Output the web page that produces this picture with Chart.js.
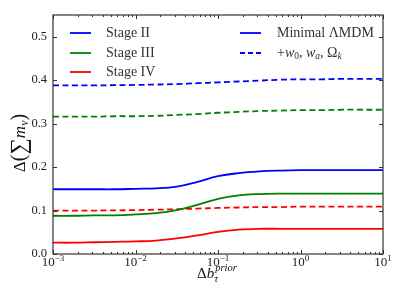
<!DOCTYPE html>
<html>
<head>
<meta charset="utf-8">
<script src="https://cdn.jsdelivr.net/npm/chart.js@4.4.1/dist/chart.umd.min.js"></script>
<style>
  html, body { margin: 0; padding: 0; background: #fff; }
  #wrap { width: 407px; height: 305px; position: relative; }
</style>
</head>
<body>
<div id="wrap"><canvas id="grafico"></canvas></div>
<script>
// valores (4 puntos por decada)
const bPrior = [0.001, 0.00178, 0.00316, 0.00562, 0.01, 0.0178, 0.0316, 0.0562, 0.1, 0.178, 0.316, 0.562, 1, 1.78, 3.16, 5.62, 10];

const stage2Min = [0.149, 0.149, 0.149, 0.149, 0.150, 0.151, 0.155, 0.166, 0.179, 0.186, 0.190, 0.192, 0.193, 0.193, 0.193, 0.193, 0.193];
const stage3Min = [0.088, 0.088, 0.089, 0.089, 0.091, 0.094, 0.101, 0.113, 0.127, 0.135, 0.138, 0.139, 0.139, 0.139, 0.139, 0.139, 0.139];
const stage4Min = [0.026, 0.026, 0.027, 0.028, 0.029, 0.031, 0.036, 0.043, 0.051, 0.056, 0.058, 0.058, 0.058, 0.058, 0.058, 0.058, 0.058];

const stage2Ext = [0.388, 0.388, 0.388, 0.3885, 0.389, 0.390, 0.391, 0.393, 0.395, 0.397, 0.399, 0.401, 0.402, 0.402, 0.403, 0.403, 0.403];
const stage3Ext = [0.316, 0.316, 0.316, 0.317, 0.317, 0.318, 0.320, 0.322, 0.325, 0.327, 0.329, 0.330, 0.331, 0.331, 0.332, 0.332, 0.332];
const stage4Ext = [0.100, 0.100, 0.100, 0.1005, 0.101, 0.102, 0.103, 0.1045, 0.106, 0.107, 0.108, 0.108, 0.109, 0.109, 0.109, 0.109, 0.109];

const xTickVals = [0.001, 0.01, 0.1, 1, 10];
const xTickExp = ['\u22123', '\u22122', '\u22121', '0', '1'];
const yTickVals = [0, 0.1, 0.2, 0.3, 0.4, 0.5];

const stageNames = ['Stage II', 'Stage III', 'Stage IV'];
const colores = ['#0000ff', '#008000', '#ff0000'];

const serif = '"Liberation Serif", "DejaVu Serif", serif';

function puntos(ys) {
    return bPrior.map((x, i) => ({x: x, y: ys[i]}));
}

function serie(ys, color, dashed) {
    return {
        data: puntos(ys),
        borderColor: color,
        borderWidth: 1.8,
        borderDash: dashed ? [6, 3.5] : [],
        pointRadius: 0,
        fill: false,
        tension: 0.4
    };
}

// dibuja piezas de texto seguidas: [texto, fuente, desplazamiento vertical]
function textoCompuesto(ctx, partes, x, y, centrado) {
    if (centrado) {
        let w = 0;
        partes.forEach(p => { ctx.font = p[1]; w += ctx.measureText(p[0]).width; });
        x -= w / 2;
    }
    partes.forEach(p => {
        ctx.font = p[1];
        ctx.fillText(p[0], x, y + p[2]);
        x += ctx.measureText(p[0]).width;
    });
}

// marco, ticks hacia dentro, etiquetas x, leyenda y titulos de ejes
const decoracion = {
    id: 'decoracion',
    afterDraw(chart) {
        const ctx = chart.ctx;
        const a = chart.chartArea;
        const xs = chart.scales.x;
        const ys = chart.scales.y;
        ctx.save();
        ctx.strokeStyle = '#333';
        ctx.lineWidth = 1;
        ctx.beginPath();
        for (let k = -3; k <= 1; k++) {
            for (let m = 1; m <= 9; m++) {
                const v = m * Math.pow(10, k);
                if (v > 10) break;
                const px = Math.round(xs.getPixelForValue(v)) + 0.5;
                const len = m === 1 ? 4 : 2;
                ctx.moveTo(px, a.bottom); ctx.lineTo(px, a.bottom - len);
                ctx.moveTo(px, a.top); ctx.lineTo(px, a.top + len);
            }
        }
        yTickVals.forEach(v => {
            const py = Math.round(ys.getPixelForValue(v)) + 0.5;
            ctx.moveTo(a.left, py); ctx.lineTo(a.left + 4, py);
            ctx.moveTo(a.right, py); ctx.lineTo(a.right - 4, py);
        });
        ctx.stroke();
        ctx.lineWidth = 1.2;
        ctx.strokeRect(a.left, a.top, a.right - a.left, a.bottom - a.top);

        // etiquetas del eje x: 10 con exponente
        ctx.fillStyle = '#222';
        ctx.textBaseline = 'alphabetic';
        ctx.textAlign = 'left';
        xTickVals.forEach((v, i) => {
            const px = xs.getPixelForValue(v);
            textoCompuesto(ctx, [
                ['10', '13px ' + serif, 0],
                [xTickExp[i], '9px ' + serif, -5]
            ], px, 266, true);
        });

        // leyenda
        ctx.fillStyle = '#333';
        ctx.textBaseline = 'middle';
        ctx.font = '14px ' + serif;
        const filas = [33, 53, 72];
        stageNames.forEach((n, i) => {
            ctx.strokeStyle = colores[i];
            ctx.lineWidth = 1.8;
            ctx.setLineDash([]);
            ctx.beginPath();
            ctx.moveTo(70, filas[i]); ctx.lineTo(91, filas[i]);
            ctx.stroke();
            ctx.fillText(n, 106, filas[i]);
        });
        ctx.strokeStyle = colores[0];
        ctx.beginPath();
        ctx.moveTo(240, filas[0]); ctx.lineTo(261, filas[0]);
        ctx.stroke();
        ctx.setLineDash([5, 3]);
        ctx.beginPath();
        ctx.moveTo(240, filas[1]); ctx.lineTo(261, filas[1]);
        ctx.stroke();
        ctx.setLineDash([]);
        ctx.fillText('Minimal \u039BMDM', 277, filas[0]);
        textoCompuesto(ctx, [
            ['+', '14px ' + serif, 0],
            ['w', 'italic 14px ' + serif, 0],
            ['0', '9.5px ' + serif, 3],
            [', ', '14px ' + serif, 0],
            ['w', 'italic 14px ' + serif, 0],
            ['a', 'italic 9.5px ' + serif, 3],
            [', \u03A9', '14px ' + serif, 0],
            ['k', 'italic 9.5px ' + serif, 3]
        ], 277, filas[1], false);

        // titulo eje x
        ctx.fillStyle = '#111';
        ctx.textBaseline = 'alphabetic';
        ctx.font = '15px ' + serif;
        let cx = 197;
        ctx.fillText('\u0394', cx, 278);
        cx += ctx.measureText('\u0394').width;
        ctx.font = 'italic 15px ' + serif;
        ctx.fillText('b', cx, 278);
        cx += ctx.measureText('b').width;
        ctx.font = 'italic 10.5px ' + serif;
        ctx.fillText('\u03C4', cx, 282);
        ctx.fillText('prior', cx + 1, 271);

        // titulo eje y
        ctx.translate(25, 143);
        ctx.rotate(-Math.PI / 2);
        textoCompuesto(ctx, [
            ['\u0394', '17px ' + serif, 0],
            ['(', '20px ' + serif, 0],
            ['\u2211', '23px ' + serif, 1],
            ['m', 'italic 17px ' + serif, 0],
            ['\u03BD', 'italic 12px ' + serif, 3],
            [')', '20px ' + serif, 0]
        ], 0, 0, true);
        ctx.restore();
    }
};

new Chart(document.getElementById('grafico'), {
    type: 'line',
    data: {
        datasets: [
            serie(stage2Min, colores[0], false),
            serie(stage3Min, colores[1], false),
            serie(stage4Min, colores[2], false),
            serie(stage2Ext, colores[0], true),
            serie(stage3Ext, colores[1], true),
            serie(stage4Ext, colores[2], true)
        ]
    },
    options: {
        responsive: true,
        maintainAspectRatio: false,
        animation: false,
        layout: { padding: { top: 15, right: 24, left: 0, bottom: 0 } },
        plugins: { legend: { display: false }, tooltip: { enabled: false } },
        scales: {
            x: {
                type: 'logarithmic',
                min: 0.001,
                max: 10,
                grid: { display: false, drawTicks: false },
                border: { display: false },
                afterBuildTicks: s => { s.ticks = xTickVals.map(v => ({value: v})); },
                afterFit: s => { s.height = 51; },
                ticks: { display: false }
            },
            y: {
                min: 0,
                max: 0.55,
                grid: { display: false, drawTicks: false },
                border: { display: false },
                afterBuildTicks: s => { s.ticks = yTickVals.map(v => ({value: v})); },
                afterFit: s => { s.width = 53; },
                ticks: {
                    padding: 6,
                    color: '#222',
                    font: { family: serif, size: 12.5 },
                    callback: v => v.toFixed(1)
                }
            }
        }
    },
    plugins: [decoracion]
});
</script>
</body>
</html>
